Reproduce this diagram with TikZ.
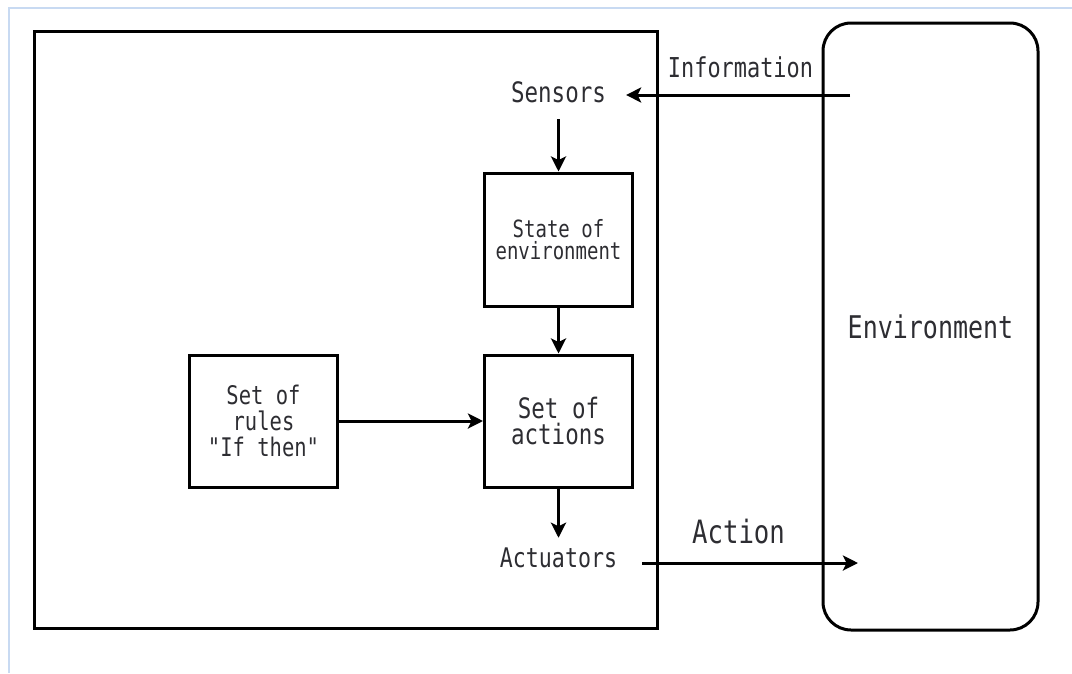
\documentclass[tikz,border=0pt]{standalone}
\usepackage{fontspec}
\usepackage{graphicx}
\usepackage{tikz}
\usetikzlibrary{arrows.meta}

\newfontfamily\diagfont{DejaVu Sans Mono}
\definecolor{framebl}{RGB}{200,218,242}
\definecolor{inkgray}{RGB}{45,45,50}

\begin{document}
\begin{tikzpicture}[x=1pt, y=-1pt]
  \useasboundingbox (0,0) rectangle (1072,673);

  \tikzset{
    box/.style={draw, line width=3pt, minimum width=148pt, minimum height=132pt, inner sep=0pt, text=inkgray},
    word/.style={text=inkgray, inner sep=0pt},
    flow/.style={line width=3pt, -{Stealth[length=15pt,width=15pt,inset=3.5pt]}},
  }

  % narrow mono text, stretched upwards
  \newcommand{\labeltext}[2]{\scalebox{1}[1.25]{\fontsize{#1}{#1}\diagfont #2}}
  \newcommand{\boxtext}[3]{\scalebox{1}[1.25]{\fontsize{#1}{#2}\diagfont
    \vbox{\baselineskip=#2pt\lineskiplimit=-\maxdimen\let\\\cr
      \halign{\hfil##\hfil\cr #3\cr}}}}

  % window edge
  \draw[framebl, line width=1.5pt] (9,673) -- (9,8) -- (1072,8);

  % agent and environment
  \node[draw, line width=3pt, minimum width=623pt, minimum height=597pt] (agent) at (345.5,329.5) {};
  \node[draw, line width=3pt, rounded corners=28pt, minimum width=215pt, minimum height=607pt, text=inkgray]
    (env) at (930.5,326.5) {\labeltext{25}{Environment}};

  \node[box] (rules) at (263.5,421) {\boxtext{20.5}{20.8}{Set of\\rules\\"If then"}};
  \node[box] (actions) at (558.5,421) {\boxtext{22.5}{21}{Set of\\actions}};
  \node[box, minimum height=133pt] (state) at (558.5,239.5) {\boxtext{19}{17.6}{State of\\environment}};

  \node[word, inner xsep=20pt, inner ysep=16pt] (sensors) at (558.5,92.5) {\labeltext{22.5}{Sensors}};
  \node[word, inner xsep=25pt, inner ysep=10pt] (actuators) at (558.5,558) {\labeltext{21.6}{Actuators}};
  \node[word] (info) at (740.5,67.5) {\labeltext{21.9}{Information}};
  \node[word] (action) at (738.5,531.5) {\labeltext{25.7}{Action}};

  \coordinate (infoin) at (850,95);
  \coordinate (actout) at (858,563);

  \draw[flow] (infoin) -- (sensors.east |- infoin);
  \draw[flow] (sensors.south) -- (state.north);
  \draw[flow] (state.south) -- (actions.north);
  \draw[flow] (rules.east) -- (actions.west);
  \draw[flow] (actions.south) -- (actuators.north);
  \draw[flow] (actuators.east |- actout) -- (actout);
\end{tikzpicture}
\end{document}
